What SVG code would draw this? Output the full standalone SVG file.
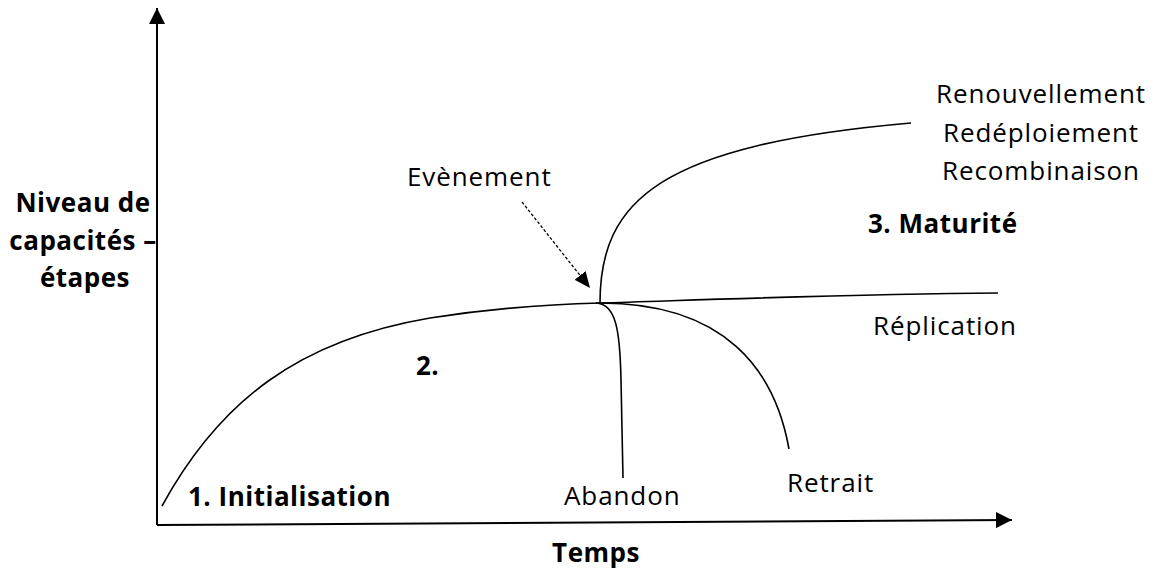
<svg xmlns="http://www.w3.org/2000/svg" width="1161" height="584" viewBox="0 0 1161 584">
  <style>
    .lbl { font-family: "Open Sans", "Liberation Sans", sans-serif; font-size: 26px; letter-spacing: 0.9px; fill: #000; }
    .bold { font-weight: bold; letter-spacing: 0.5px; }
    .axis { stroke: #000; stroke-width: 2; fill: none; }
    .curve { stroke: #000; stroke-width: 1.6; fill: none; }
    .dash { stroke: #000; stroke-width: 1.3; fill: none; stroke-dasharray: 3 2; }
  </style>
  <defs>
    <marker id="axisHead" viewBox="0 0 16 16" refX="16" refY="8" markerWidth="16" markerHeight="16" markerUnits="userSpaceOnUse" orient="auto">
      <path d="M0,0 L16,8 L0,16 Z" fill="#000"/>
    </marker>
    <marker id="dashHead" viewBox="0 0 16 14" refX="16" refY="7" markerWidth="16" markerHeight="14" markerUnits="userSpaceOnUse" orient="auto">
      <path d="M0,0 L16,7 L0,14 Z" fill="#000"/>
    </marker>
  </defs>
  <rect width="1161" height="584" fill="#fff"/>

  <!-- axes and curves -->
  <g id="connectors">
    <path class="axis" d="M157,525 L157,8" marker-end="url(#axisHead)"/>
    <path class="axis" d="M157,525 L1012,520" marker-end="url(#axisHead)"/>
    <!-- growth curve continuing into replication -->
    <path class="curve" d="M162,506 C220,400 300,340 430,318 C500,307 560,304 600,303 C700,300 850,294 998,293"/>
    <!-- renewal branch -->
    <path class="curve" d="M600,303 C600,200 660,145 911,123"/>
    <!-- abandonment branch -->
    <path class="curve" d="M596,303 C616,304 620,330 621,380 L623,478"/>
    <!-- withdrawal branch -->
    <path class="curve" d="M600,303 C725,303 775,370 789,449"/>
    <!-- event pointer -->
    <path class="dash" d="M522,202 L590,288" marker-end="url(#dashHead)"/>
  </g>

  <g id="axis-y-label">
    <text class="lbl bold" x="83" y="212" text-anchor="middle">Niveau de</text>
    <text class="lbl bold" x="83" y="250" text-anchor="middle">capacités –</text>
    <text class="lbl bold" x="85" y="287" text-anchor="middle">étapes</text>
  </g>
  <g id="axis-x-label">
    <text class="lbl bold" x="596" y="562" text-anchor="middle">Temps</text>
  </g>
  <g id="stage-1">
    <text class="lbl bold" x="188" y="506">1. Initialisation</text>
  </g>
  <g id="stage-2">
    <text class="lbl bold" x="416" y="375">2.</text>
  </g>
  <g id="stage-3">
    <text class="lbl bold" x="868" y="233">3. Maturité</text>
  </g>
  <g id="event">
    <text class="lbl" x="407" y="186">Evènement</text>
  </g>
  <g id="renewal">
    <text class="lbl" x="1041" y="103" text-anchor="middle">Renouvellement</text>
    <text class="lbl" x="1041" y="142" text-anchor="middle">Redéploiement</text>
    <text class="lbl" x="1041" y="180" text-anchor="middle">Recombinaison</text>
  </g>
  <g id="replication">
    <text class="lbl" x="873" y="335">Réplication</text>
  </g>
  <g id="withdrawal">
    <text class="lbl" x="787" y="492">Retrait</text>
  </g>
  <g id="abandonment">
    <text class="lbl" x="564" y="505">Abandon</text>
  </g>
</svg>
